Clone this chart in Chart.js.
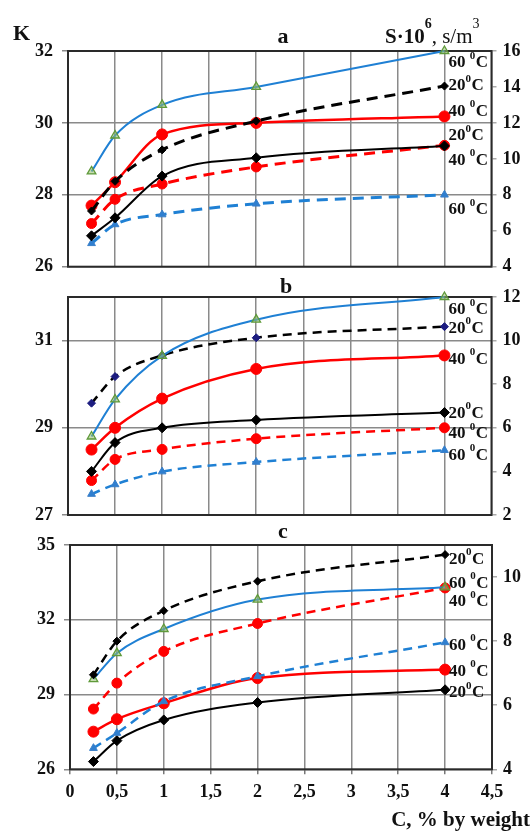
<!DOCTYPE html>
<html><head><meta charset="utf-8">
<script src="https://cdn.jsdelivr.net/npm/chart.js@4.4.1/dist/chart.umd.min.js"></script>
<style>
html,body{margin:0;padding:0;background:#fff;}
#wrap{position:relative;width:530px;height:832px;overflow:hidden;font-family:'Liberation Serif','Times New Roman',serif;color:#111;}
canvas{position:absolute;left:0;}
.t{position:absolute;white-space:nowrap;line-height:1;font-family:'Liberation Serif','Times New Roman',serif;color:#111;}
.sup{position:relative;font-size:14px;}
</style></head><body>
<div id="wrap">
<canvas id="ca" width="530" height="300" style="top:0px"></canvas>
<canvas id="cb" width="530" height="290" style="top:260px"></canvas>
<canvas id="cc" width="530" height="322" style="top:510px"></canvas>
<div class="t" style="left:13px;top:21.6px;font-size:22px;font-weight:bold;">K</div>
<div class="t" style="left:385px;top:26.4px;font-size:21px;"><b>S·10<span class="sup" style="top:-15px">6</span></b>, s/m<span class="sup" style="top:-15px">3</span></div>
<div class="t" style="left:283px;top:24.6px;font-size:22px;font-weight:bold;transform:translateX(-50%)">a</div>
<div class="t" style="left:286px;top:274.6px;font-size:22px;font-weight:bold;transform:translateX(-50%)">b</div>
<div class="t" style="left:283px;top:519.6px;font-size:22px;font-weight:bold;transform:translateX(-50%)">c</div>
<div class="t" style="right:0px;top:809.4px;font-size:21px;font-weight:bold;">C, % by weight</div>
</div>
<script>
// ---------- data ----------
const C_PCT = [0.25, 0.5, 1, 2, 4];
const X_TICKS = [0, 0.5, 1, 1.5, 2, 2.5, 3, 3.5, 4, 4.5];

// panel a
const a_K60 = [28.65, 29.65, 30.5, 31.0, 32.0];
const a_K40 = [27.7, 28.35, 29.68, 30.0, 30.18];
const a_K20 = [26.86, 27.36, 28.52, 29.03, 29.36];
const a_S20 = [7.1, 8.75, 10.5, 12.1, 14.05];
const a_S40 = [6.4, 7.75, 8.6, 9.55, 10.75];
const a_S60 = [5.3, 6.35, 6.9, 7.5, 8.0];
const a_K_TICKS = [26, 28, 30, 32];
const a_S_TICKS = [4, 6, 8, 10, 12, 14, 16];

// panel b
const b_K60 = [28.8, 29.65, 30.65, 31.48, 32.0];
const b_K40 = [28.5, 29.0, 29.67, 30.35, 30.66];
const b_K20 = [28.0, 28.66, 29.0, 29.18, 29.35];
const b_S20 = [7.13, 8.35, 9.32, 10.13, 10.64];
const b_S40 = [3.58, 4.55, 5.01, 5.5, 6.0];
const b_S60 = [2.96, 3.4, 3.99, 4.43, 4.97];
const b_K_TICKS = [27, 29, 31];
const b_S_TICKS = [2, 4, 6, 8, 10, 12];

// panel c
const c_K60 = [29.62, 30.66, 31.63, 32.81, 33.3];
const c_K40 = [27.51, 28.01, 28.65, 29.66, 30.0];
const c_K20 = [26.31, 27.15, 27.98, 28.68, 29.19];
const c_S20 = [6.95, 8.0, 8.95, 9.87, 10.7];
const c_S40 = [5.88, 6.69, 7.68, 8.55, 9.66];
const c_S60 = [4.66, 5.13, 6.12, 6.9, 7.96];
const c_K_TICKS = [26, 29, 32, 35];
const c_S_TICKS = [4, 6, 8, 10];

// ---------- styles ----------
const FONT = "'Liberation Serif','Times New Roman',serif";
const BLUE = '#1f80d4', RED = '#ff0000', BLACK = '#000000';
const GRID = '#8a8a8a';

function pts(ys){ return C_PCT.map((x,i)=>({x:x, y:ys[i]})); }

function solid(ys, color, style, label, dy, extra){
  return Object.assign({
    data: pts(ys), yAxisID:'yL', borderColor: color, borderWidth: 2,
    pointStyle: style.ps, pointRadius: style.r, pointBackgroundColor: style.bg || color,
    pointBorderColor: style.bc || color, pointBorderWidth: style.bw || 1,
    fill:false, clip:false, endLabel: label, labelDy: dy
  }, extra||{});
}
function dashed(ys, color, style, label, dy, dash, width){
  return {
    data: pts(ys), yAxisID:'yR', borderColor: color, borderWidth: width, borderDash: dash,
    pointStyle: style.ps, pointRadius: style.r, pointBackgroundColor: style.bg || color,
    pointBorderColor: style.bc || color, pointBorderWidth: style.bw || 1,
    fill:false, clip:false, endLabel: label, labelDy: dy
  };
}

const TRI_G = {ps:'triangle', r:5, bg:'rgba(150,190,110,0.55)', bc:'#5f9a3a', bw:1.3};
const TRI_B = {ps:'triangle', r:4.5, bg:'#2f7fd0', bc:'#3a7fc8', bw:1};
const CIRC_L = {ps:'circle', r:5.5};
const CIRC_S = {ps:'circle', r:5};
const DIA_L = {ps:'rectRot', r:5};
const DIA_S = {ps:'rectRot', r:4};

const framePlugin = {
  id:'frame',
  beforeDatasetsDraw(chart){
    const a = chart.chartArea, ctx = chart.ctx;
    ctx.save(); ctx.strokeStyle = '#2a2a2a'; ctx.lineWidth = 2;
    ctx.strokeRect(a.left, a.top, a.right - a.left, a.bottom - a.top);
    ctx.restore();
  }
};

function drawDeg(ctx, text, x, y){
  const big = "bold 17px " + FONT, small = "bold 11px " + FONT;
  const parts = text.split('⁰');
  ctx.font = big; ctx.fillText(parts[0], x, y); x += ctx.measureText(parts[0]).width;
  if (parts.length > 1){
    ctx.font = small; ctx.fillText('0', x, y - 7); x += ctx.measureText('0').width + 0.5;
    ctx.font = big; ctx.fillText(parts[1], x, y);
  }
}

const endLabelPlugin = {
  id:'endLabels',
  afterDatasetsDraw(chart){
    const ctx = chart.ctx;
    ctx.save(); ctx.fillStyle = '#111'; ctx.textBaseline = 'middle'; ctx.textAlign = 'left';
    chart.data.datasets.forEach((ds, i) => {
      if (!ds.endLabel) return;
      const meta = chart.getDatasetMeta(i);
      const p = meta.data[meta.data.length - 1];
      drawDeg(ctx, ds.endLabel, p.x + 4, p.y + (ds.labelDy || 0));
    });
    ctx.restore();
  }
};

function fixTicks(list){ return s => { s.ticks = list.map(v => ({value:v})); }; }
const tickFont = {family: FONT, size: 18, weight: 'bold'};

function makePanel(id, datasets, o){
  return new Chart(document.getElementById(id), {
    type:'line',
    data:{datasets},
    options:{
      responsive:false, animation:false, devicePixelRatio:1,
      layout:{padding:{top:o.padTop, left:0, right:0, bottom:0}},
      plugins:{legend:{display:false}, tooltip:{enabled:false}},
      elements:{line:{cubicInterpolationMode:'monotone'}},
      scales:{
        x:{type:'linear', min:0, max:4.5, afterBuildTicks: fixTicks(X_TICKS),
           grid:{color:GRID, lineWidth:1.5, drawTicks:o.showX, tickLength:5, tickColor:'#777'},
           border:{display:false},
           ticks:{display:o.showX, padding:7, font:tickFont, color:'#111', maxRotation:0, autoSkip:false,
                  callback:v=>String(v).replace('.', ',')},
           afterFit: s => { s.height = o.xH; }},
        yL:{type:'linear', position:'left', min:o.kMin, max:o.kMax, afterBuildTicks: fixTicks(o.kTicks),
            grid:{color:GRID, lineWidth:1.5, tickLength:6},
            border:{display:false},
            ticks:{padding:9, font:tickFont, color:'#111'},
            afterFit: s => { s.width = o.leftW; }},
        yR:{type:'linear', position:'right', min:o.sMin, max:o.sMax, afterBuildTicks: fixTicks(o.sTicks),
            grid:{drawOnChartArea:false, color:'#aaaaaa', lineWidth:1.5, tickLength:5},
            border:{display:false},
            ticks:{padding:6, font:tickFont, color:'#111'},
            afterFit: s => { s.width = o.rightW; }}
      }
    },
    plugins:[framePlugin, endLabelPlugin]
  });
}

// panel a
makePanel('ca', [
  solid(a_K60, BLUE, TRI_G, '60 ⁰C', 12),
  dashed(a_S20, BLACK, DIA_S, '20⁰C', 0, [11,7], 3),
  solid(a_K40, RED, CIRC_L, '40 ⁰C', -5, {borderWidth:2.5}),
  solid(a_K20, BLACK, DIA_L, '20⁰C', -10),
  dashed(a_S40, RED, CIRC_S, '40 ⁰C', 15, [11,7], 3),
  dashed(a_S60, BLUE, TRI_B, '60 ⁰C', 15, [11,7], 3)
], {padTop:51, xH:33.3, showX:false, leftW:68, rightW:38.5,
    kMin:26, kMax:32, kTicks:a_K_TICKS, sMin:4, sMax:16, sTicks:a_S_TICKS});

// panel b
makePanel('cb', [
  solid(b_K60, BLUE, TRI_G, '60 ⁰C', 13),
  dashed(b_S20, BLACK, {ps:'rectRot', r:4, bg:'#1c1c80', bc:'#1c1c80'}, '20⁰C', 2, [9,6], 2.5),
  solid(b_K40, RED, CIRC_L, '40 ⁰C', 4, {borderWidth:2.5}),
  solid(b_K20, BLACK, DIA_L, '20⁰C', 1),
  dashed(b_S40, RED, CIRC_S, '40 ⁰C', 6, [9,6], 2.5),
  dashed(b_S60, BLUE, TRI_B, '60 ⁰C', 5, [9,6], 2.5)
], {padTop:37, xH:35, showX:false, leftW:68, rightW:38.5,
    kMin:27, kMax:32, kTicks:b_K_TICKS, sMin:2, sMax:12, sTicks:b_S_TICKS});

// panel c
makePanel('cc', [
  dashed(c_S20, BLACK, DIA_S, '20⁰C', 5, [9,6], 2.5),
  solid(c_K60, BLUE, TRI_G, '60 ⁰C', -4),
  dashed(c_S40, RED, CIRC_S, '40 ⁰C', 14, [9,6], 2.5),
  dashed(c_S60, BLUE, TRI_B, '60 ⁰C', 3, [9,6], 2.5),
  solid(c_K40, RED, CIRC_L, '40 ⁰C', 2, {borderWidth:2.5}),
  solid(c_K20, BLACK, DIA_L, '20⁰C', 3)
], {padTop:35, xH:62.7, showX:true, leftW:70, rightW:38,
    kMin:26, kMax:35, kTicks:c_K_TICKS, sMin:4, sMax:11, sTicks:c_S_TICKS});
</script>
</body></html>
